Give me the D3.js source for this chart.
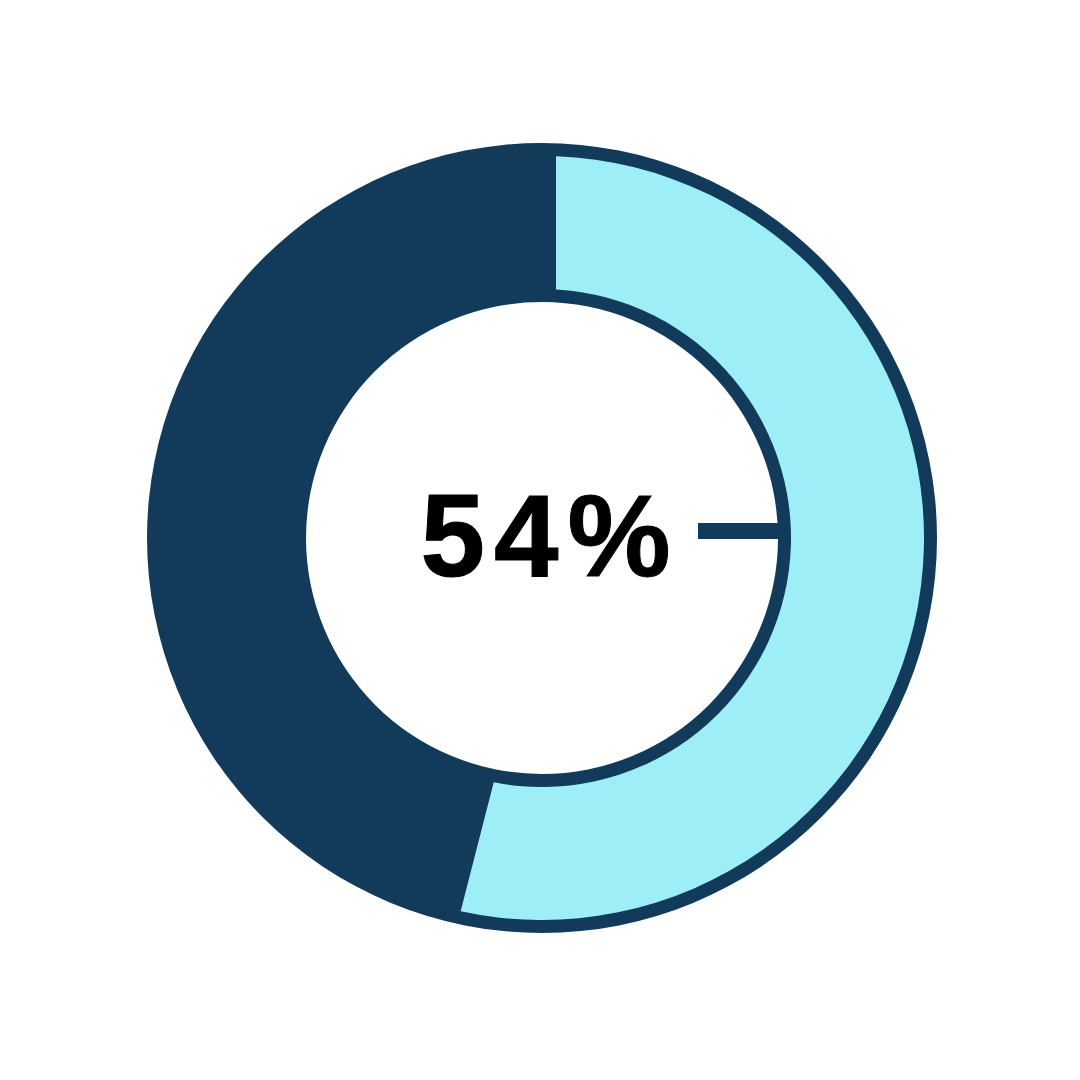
<!DOCTYPE html>
<html>
<head>
<meta charset="utf-8">
<script src="https://cdn.jsdelivr.net/npm/d3@7"></script>
<style>
  body { margin: 0; background: #fff; }
</style>
</head>
<body>
<div id="chart"></div>
<script>
// share shown in the ring
var categories = ["Share", "Rest"];
var values = [54, 46];
var labelText = "54%";

var width = 1080, height = 1080;
var cx = 542, cy = 538;
var outerR = 395, innerR = 236;
var dark = "#123a5b", light = "#9eeef8";

var svg = d3.select("#chart").append("svg")
    .attr("width", width)
    .attr("height", height);

var g = svg.append("g")
    .attr("transform", "translate(" + cx + "," + cy + ")");

// full dark ring behind
g.append("path")
    .attr("d", d3.arc().innerRadius(innerR).outerRadius(outerR)({ startAngle: 0, endAngle: 2 * Math.PI }))
    .attr("fill", dark);

var pie = d3.pie().sort(null).value(function (d) { return d; });
var arcs = pie(values);

// highlighted slice, inset inside the dark ring
var inset = 13;
var sliceArc = d3.arc()
    .innerRadius(innerR + inset)
    .outerRadius(outerR - inset)
    .padRadius(outerR)
    .padAngle(2 * (inset + 1) / outerR);

g.append("path")
    .datum(arcs[0])
    .attr("d", sliceArc)
    .attr("fill", light);

// pointer line from label to the inner edge
var x = d3.scaleLinear().domain([0, 1]).range([156, innerR + 4]);
g.append("line")
    .attr("x1", x(0))
    .attr("x2", x(1))
    .attr("y1", -7)
    .attr("y2", -7)
    .attr("stroke", dark)
    .attr("stroke-width", 16);

g.append("text")
    .attr("x", 8)
    .attr("y", 38)
    .attr("text-anchor", "middle")
    .style("font-family", "'Liberation Sans', Arial, sans-serif")
    .style("font-weight", "bold")
    .style("font-size", "116px")
    .style("letter-spacing", "9px")
    .attr("fill", "#000")
    .attr("stroke", "#000")
    .attr("stroke-width", 1)
    .text(labelText);
</script>
</body>
</html>
